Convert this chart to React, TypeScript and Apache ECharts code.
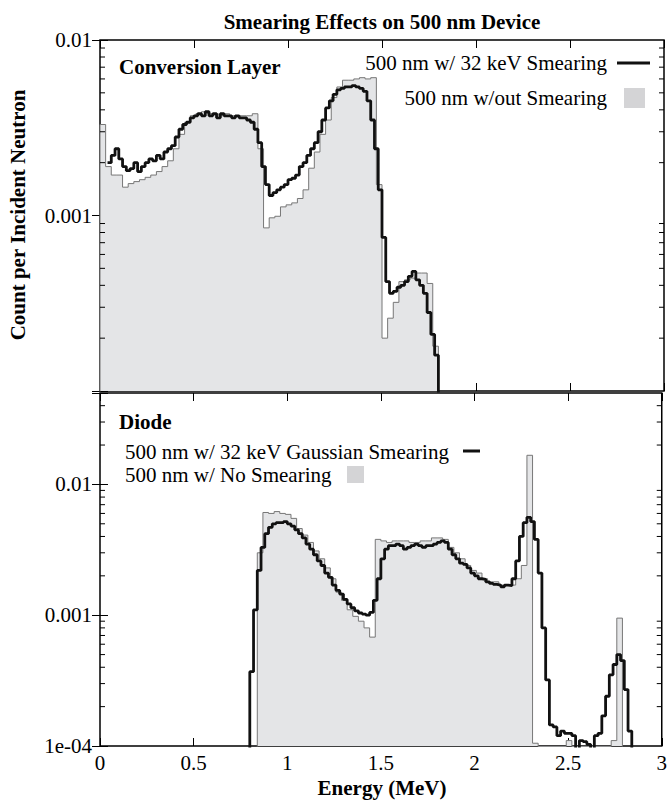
import React, { useEffect, useRef } from 'react';
import * as echarts from 'echarts';

const FONT = 'Liberation Serif';
const FLOOR = 1e-6;

// X axis (Energy, MeV)
const xMin = 0;
const xMax = 3;
const xStep = 0.5;

// Y tick labels by power of ten
const yTickLabels: Record<string, string> = { '-2': '0.01', '-3': '0.001', '-4': '1e-04' };
const minorTop = [2e-4, 3e-4, 4e-4, 5e-4, 6e-4, 7e-4, 8e-4, 9e-4, 2e-3, 3e-3, 4e-3, 5e-3, 6e-3, 7e-3, 8e-3, 9e-3];
const minorBottom = [2e-4, 3e-4, 4e-4, 5e-4, 6e-4, 7e-4, 8e-4, 9e-4, 2e-3, 3e-3, 4e-3, 5e-3, 6e-3, 7e-3, 8e-3, 9e-3, 2e-2, 3e-2, 4e-2];

// Conversion layer, no smearing: 0.03 MeV bins starting at 0
const convNoSmearStart = 0;
const convNoSmearWidth = 0.03;
const convNoSmear = [
  0.0033, 0.0019, 0.0017, 0.0017, 0.00145, 0.00152, 0.00156, 0.0016, 0.00165, 0.0017,
  0.00178, 0.0019, 0.00205, 0.0024, 0.0029, 0.0034, 0.0037, 0.0038, 0.0039, 0.0038,
  0.0038, 0.0037, 0.0038, 0.0037, 0.0037, 0.0037, 0.0037, 0.0038, 0.0024, 0.00085,
  0.00097, 0.00099, 0.00112, 0.00115, 0.00118, 0.00125, 0.0014, 0.00186, 0.0023, 0.0029,
  0.0035, 0.0047, 0.0054, 0.0059, 0.0059, 0.006, 0.0061, 0.006, 0.0061, 0.0015,
  0.0002, 0.00026, 0.00032, 0.00042, 0.00043, 0.00044, 0.00047, 0.00047, 0.00041, 0.00018,
];

// Conversion layer, 32 keV smearing: 0.02 MeV bins starting at 0.04
const convSmearStart = 0.04;
const convSmearWidth = 0.02;
const convSmear = [
  0.0020, 0.0022, 0.0024, 0.0021, 0.0019, 0.0018, 0.00185, 0.0020, 0.00178, 0.0019,
  0.0020, 0.0021, 0.00205, 0.0022, 0.0021, 0.0023, 0.0024, 0.0025, 0.0028, 0.0031,
  0.0033, 0.0034, 0.0036, 0.0037,
  0.0038, 0.0037, 0.0039, 0.0037, 0.0038, 0.0036, 0.0038, 0.0037, 0.0037, 0.0036,
  0.0037, 0.0036, 0.0036, 0.0035,
  0.0034, 0.0031, 0.0026, 0.0019, 0.0015, 0.0013, 0.00135, 0.0014, 0.00145, 0.0015,
  0.0016, 0.00163, 0.0017, 0.0019, 0.0020, 0.0022, 0.0024, 0.0026, 0.0030, 0.0035,
  0.0041, 0.0045, 0.0049, 0.0052, 0.0053, 0.0054, 0.0054, 0.0055, 0.0054, 0.0053,
  0.0051, 0.0045, 0.0035, 0.0024, 0.0014, 0.00075, 0.00042, 0.00036, 0.00037, 0.00039,
  0.0004, 0.00042, 0.00045, 0.00048, 0.00043, 0.0004, 0.00036, 0.00028, 0.00021, 0.00016,
];

// Diode, no smearing: 0.03 MeV bins starting at 0.84 (0 = empty bin)
const diodeNoSmearStart = 0.84;
const diodeNoSmearWidth = 0.03;
const diodeNoSmear = [
  0.003, 0.0061, 0.006, 0.0062, 0.006, 0.0059, 0.0055, 0.0046, 0.0041, 0.0036,
  0.0031, 0.0027, 0.0023, 0.0019, 0.0015, 0.0013, 0.0011, 0.00098, 0.0009, 0.0008,
  0.00068, 0.0038, 0.0037, 0.0036, 0.0037, 0.0037, 0.0037, 0.0036, 0.0036, 0.0037,
  0.0037, 0.0039, 0.0039, 0.0038, 0.0033, 0.003, 0.0027, 0.0024, 0.0022, 0.0021,
  0.0019, 0.0018, 0.0018, 0.0017, 0.0017, 0.0017, 0.0019, 0.0024, 0.0167, 0.000105,
  0, 0, 0, 0, 0, 0.00011, 0, 0, 0, 0,
  0, 0, 0, 0.00011, 0.00095,
];

// Diode, 32 keV Gaussian smearing: 0.02 MeV bins starting at 0.80
const diodeSmearStart = 0.8;
const diodeSmearWidth = 0.02;
const diodeSmear = [
  0.00037, 0.0011, 0.0022, 0.0033, 0.0042, 0.0047, 0.0050, 0.0051, 0.0051, 0.0052,
  0.0050, 0.0048, 0.0045, 0.0042, 0.0039, 0.0035, 0.0032, 0.0029, 0.0026, 0.0024,
  0.0021, 0.00195, 0.0017, 0.00155, 0.00145, 0.00132, 0.00122, 0.00114, 0.00108, 0.00104,
  0.00102, 0.0010, 0.00105, 0.0013, 0.0019, 0.0027, 0.0032, 0.0034,
  0.0034, 0.0035, 0.0034, 0.0032, 0.0033, 0.0034, 0.0035, 0.0034, 0.0033, 0.0034,
  0.0034, 0.0035, 0.0036, 0.0037,
  0.0036, 0.0032, 0.0029, 0.0027, 0.0025, 0.00245, 0.0023, 0.0021, 0.0020, 0.0019,
  0.00188, 0.0018, 0.00175, 0.00172, 0.0017, 0.00165, 0.0017, 0.00168, 0.0019, 0.0026,
  0.0040, 0.0051, 0.0056, 0.0052, 0.0038, 0.0021, 0.0008, 0.00032, 0.000145, 0.00014,
  0.00012, 0.00013, 0.000125, 0.000125, 0.00012, 0.00009, 0.00011, 0.000108, 0.000103, 0.00009,
  0.00012, 0.000125, 0.00017, 0.00024, 0.00035, 0.00042, 0.0005, 0.00045, 0.00027, 0.00013,
];

function histPoints(start: number, width: number, vals: number[], riseFromFloor = true) {
  const pts: number[][] = riseFromFloor ? [[start, FLOOR]] : [];
  vals.forEach((v, i) => {
    pts.push([+(start + i * width).toFixed(4), v > 0 ? v : FLOOR]);
  });
  const end = +(start + vals.length * width).toFixed(4);
  const last = vals[vals.length - 1];
  pts.push([end, last > 0 ? last : FLOOR]);
  pts.push([end, FLOOR]);
  return pts;
}

function labelFmt(hideMin: boolean) {
  return (v: number) => {
    const l = Math.log10(v);
    const e = Math.round(l);
    if (Math.abs(l - e) > 1e-6) return '';
    if (hideMin && e === -4) return '';
    return yTickLabels[String(e)] || '';
  };
}

const GRAY_FILL = '#e4e5e7';
const GRAY_LINE = '#777777';
const BLACK = '#111111';

export default function App() {
  const ref = useRef<HTMLDivElement>(null);
  useEffect(() => {
    if (!ref.current) return;
    const chart = echarts.init(ref.current, undefined, { renderer: 'svg' });

    const xBase = {
      type: 'value',
      min: xMin,
      max: xMax,
      interval: xStep,
      splitLine: { show: false },
      axisLine: { show: false },
      axisTick: { show: true, inside: true, length: 8, lineStyle: { color: '#000', width: 1 } },
      axisLabel: { show: false },
    };
    const yBase = (max: number) => ({
      type: 'log',
      logBase: 10,
      min: 1e-4,
      max,
      splitLine: { show: false },
      axisLine: { show: false },
      axisTick: { show: true, inside: true, length: 8, lineStyle: { color: '#000', width: 1 } },
      minorTick: { show: false },
      axisLabel: { show: false },
    });
    const yLabel = (hideMin: boolean) => ({
      show: true,
      margin: 8,
      fontSize: 21,
      fontFamily: FONT,
      color: '#000',
      formatter: labelFmt(hideMin),
    });

    const minorSeries = (vals: number[], xi: number, yi: number) => ({
      type: 'custom',
      xAxisIndex: xi,
      yAxisIndex: yi,
      silent: true,
      z: 10,
      clip: false,
      data: vals.map((v) => [0, v]),
      renderItem: (_p: any, api: any) => {
        const v = api.value(1);
        const l = api.coord([xMin, v]);
        const r = api.coord([xMax, v]);
        return {
          type: 'group',
          children: [
            { type: 'line', shape: { x1: l[0], y1: l[1], x2: l[0] + 5, y2: l[1] }, style: { stroke: '#000', lineWidth: 1 } },
            { type: 'line', shape: { x1: r[0] - 5, y1: r[1], x2: r[0], y2: r[1] }, style: { stroke: '#000', lineWidth: 1 } },
          ],
        };
      },
    });

    const graySeries = (pts: number[][], xi: number, yi: number) => ({
      type: 'line',
      xAxisIndex: xi,
      yAxisIndex: yi,
      step: 'end',
      symbol: 'none',
      silent: true,
      z: 2,
      data: pts,
      lineStyle: { color: GRAY_LINE, width: 1 },
      areaStyle: { color: GRAY_FILL, opacity: 1, origin: 'start' },
    });
    const blackSeries = (pts: number[][], xi: number, yi: number) => ({
      type: 'line',
      xAxisIndex: xi,
      yAxisIndex: yi,
      step: 'end',
      symbol: 'none',
      silent: true,
      z: 4,
      data: pts,
      lineStyle: { color: BLACK, width: 2.8 },
    });

    const txt = (text: string, x: number, y: number, align: string, bold = false, extra: any = {}) => ({
      type: 'text',
      x,
      y,
      z: 20,
      ...extra,
      style: {
        text,
        font: `${bold ? 'bold ' : ''}21px ${bold ? "'Liberation Serif'" : "'Liberation Serif'"}`,
        fill: '#000',
        textAlign: align,
        textVerticalAlign: 'middle',
      },
    });

    chart.setOption({
      animation: false,
      backgroundColor: '#fff',
      textStyle: { fontFamily: FONT },
      grid: [
        { left: 100, top: 40, width: 564, height: 351, show: true, borderColor: '#000', borderWidth: 1.5, backgroundColor: 'transparent' },
        { left: 100, top: 393, width: 564, height: 353, show: true, borderColor: '#000', borderWidth: 1.5, backgroundColor: 'transparent' },
      ],
      xAxis: [
        { ...xBase, gridIndex: 0, position: 'bottom' },
        { ...xBase, gridIndex: 0, position: 'top' },
        {
          ...xBase,
          gridIndex: 1,
          position: 'bottom',
          axisLabel: { show: true, margin: 6, fontSize: 21, fontFamily: FONT, color: '#000' },
        },
        { ...xBase, gridIndex: 1, position: 'top' },
      ],
      yAxis: [
        { ...yBase(1e-2), gridIndex: 0, position: 'left', axisLabel: yLabel(true) },
        { ...yBase(1e-2), gridIndex: 0, position: 'right' },
        { ...yBase(0.05), gridIndex: 1, position: 'left', axisLabel: yLabel(false) },
        { ...yBase(0.05), gridIndex: 1, position: 'right' },
      ],
      series: [
        graySeries(histPoints(convNoSmearStart, convNoSmearWidth, convNoSmear), 0, 0),
        blackSeries(histPoints(convSmearStart, convSmearWidth, convSmear, false), 0, 0),
        minorSeries(minorTop, 0, 0),
        graySeries(histPoints(diodeNoSmearStart, diodeNoSmearWidth, diodeNoSmear), 2, 2),
        blackSeries(histPoints(diodeSmearStart, diodeSmearWidth, diodeSmear), 2, 2),
        minorSeries(minorBottom, 2, 2),
      ],
      graphic: [
        txt('Smearing Effects on 500 nm Device', 382, 22, 'center', true),
        txt('Count per Incident Neutron', 18, 215, 'center', true, { rotation: Math.PI / 2 }),
        txt('Energy (MeV)', 382, 788, 'center', true),
        txt('Conversion Layer', 119, 67, 'left', true),
        txt('500 nm w/ 32 keV Smearing', 607, 63, 'right'),
        { type: 'line', z: 20, shape: { x1: 617, y1: 63, x2: 650, y2: 63 }, style: { stroke: BLACK, lineWidth: 3 } },
        txt('500 nm w/out Smearing', 607, 98, 'right'),
        { type: 'rect', z: 20, shape: { x: 624, y: 88, width: 21, height: 20 }, style: { fill: '#d4d4d6' } },
        txt('Diode', 119, 422, 'left', true),
        txt('500 nm w/ 32 keV Gaussian Smearing', 125, 452, 'left'),
        { type: 'line', z: 20, shape: { x1: 463, y1: 451, x2: 480, y2: 451 }, style: { stroke: BLACK, lineWidth: 3 } },
        txt('500 nm w/ No Smearing', 125, 475, 'left'),
        { type: 'rect', z: 20, shape: { x: 347, y: 466, width: 17, height: 17 }, style: { fill: '#d4d4d6' } },
      ],
    });
    return () => chart.dispose();
  }, []);
  return <div ref={ref} style={{ position: 'absolute', left: 0, top: 0, width: 670, height: 805 }} />;
}
